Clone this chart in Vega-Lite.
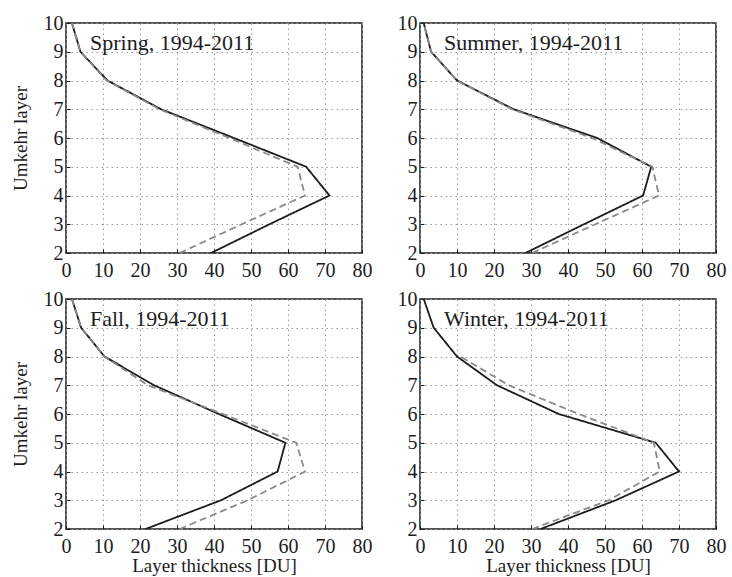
{
  "$schema": "https://vega.github.io/schema/vega-lite/v6.json",
  "padding": {"left": 10, "top": 12, "right": 5, "bottom": 0},
  "background": "white",
  "datasets": {
    "profiles": [
      {"season":"Spring","series":"a","layer":10,"value":1.6},
      {"season":"Spring","series":"a","layer":9,"value":3.9},
      {"season":"Spring","series":"a","layer":8,"value":11.2},
      {"season":"Spring","series":"a","layer":7,"value":25.7},
      {"season":"Spring","series":"a","layer":6,"value":45.4},
      {"season":"Spring","series":"a","layer":5,"value":64.9},
      {"season":"Spring","series":"a","layer":4,"value":71.2},
      {"season":"Spring","series":"a","layer":3,"value":55.0},
      {"season":"Spring","series":"a","layer":2,"value":39.2},
      {"season":"Spring","series":"b","layer":10,"value":1.6},
      {"season":"Spring","series":"b","layer":9,"value":3.9},
      {"season":"Spring","series":"b","layer":8,"value":11.0},
      {"season":"Spring","series":"b","layer":7,"value":25.3},
      {"season":"Spring","series":"b","layer":6,"value":44.1},
      {"season":"Spring","series":"b","layer":5,"value":62.6},
      {"season":"Spring","series":"b","layer":4,"value":64.6},
      {"season":"Spring","series":"b","layer":3,"value":47.5},
      {"season":"Spring","series":"b","layer":2,"value":30.7},
      {"season":"Summer","series":"a","layer":10,"value":1.0},
      {"season":"Summer","series":"a","layer":9,"value":3.0},
      {"season":"Summer","series":"a","layer":8,"value":10.0},
      {"season":"Summer","series":"a","layer":7,"value":25.3},
      {"season":"Summer","series":"a","layer":6,"value":47.9},
      {"season":"Summer","series":"a","layer":5,"value":62.5},
      {"season":"Summer","series":"a","layer":4,"value":60.3},
      {"season":"Summer","series":"a","layer":3,"value":44.3},
      {"season":"Summer","series":"a","layer":2,"value":28.5},
      {"season":"Summer","series":"b","layer":10,"value":1.0},
      {"season":"Summer","series":"b","layer":9,"value":3.0},
      {"season":"Summer","series":"b","layer":8,"value":10.0},
      {"season":"Summer","series":"b","layer":7,"value":24.9},
      {"season":"Summer","series":"b","layer":6,"value":46.5},
      {"season":"Summer","series":"b","layer":5,"value":62.8},
      {"season":"Summer","series":"b","layer":4,"value":64.6},
      {"season":"Summer","series":"b","layer":3,"value":47.4},
      {"season":"Summer","series":"b","layer":2,"value":30.3},
      {"season":"Fall","series":"a","layer":10,"value":1.6},
      {"season":"Fall","series":"a","layer":9,"value":4.1},
      {"season":"Fall","series":"a","layer":8,"value":10.4},
      {"season":"Fall","series":"a","layer":7,"value":23.8},
      {"season":"Fall","series":"a","layer":6,"value":41.3},
      {"season":"Fall","series":"a","layer":5,"value":59.3},
      {"season":"Fall","series":"a","layer":4,"value":57.2},
      {"season":"Fall","series":"a","layer":3,"value":41.9},
      {"season":"Fall","series":"a","layer":2,"value":21.5},
      {"season":"Fall","series":"b","layer":10,"value":1.6},
      {"season":"Fall","series":"b","layer":9,"value":4.1},
      {"season":"Fall","series":"b","layer":8,"value":10.4},
      {"season":"Fall","series":"b","layer":7,"value":22.1},
      {"season":"Fall","series":"b","layer":6,"value":42.4},
      {"season":"Fall","series":"b","layer":5,"value":62.2},
      {"season":"Fall","series":"b","layer":4,"value":64.6},
      {"season":"Fall","series":"b","layer":3,"value":49.1},
      {"season":"Fall","series":"b","layer":2,"value":30.7},
      {"season":"Winter","series":"a","layer":10,"value":1.0},
      {"season":"Winter","series":"a","layer":9,"value":3.7},
      {"season":"Winter","series":"a","layer":8,"value":10.0},
      {"season":"Winter","series":"a","layer":7,"value":20.8},
      {"season":"Winter","series":"a","layer":6,"value":37.5},
      {"season":"Winter","series":"a","layer":5,"value":63.7},
      {"season":"Winter","series":"a","layer":4,"value":70.0},
      {"season":"Winter","series":"a","layer":3,"value":52.9},
      {"season":"Winter","series":"a","layer":2,"value":32.6},
      {"season":"Winter","series":"b","layer":8,"value":10.9},
      {"season":"Winter","series":"b","layer":7,"value":24.0},
      {"season":"Winter","series":"b","layer":6,"value":42.9},
      {"season":"Winter","series":"b","layer":5,"value":63.2},
      {"season":"Winter","series":"b","layer":4,"value":64.8},
      {"season":"Winter","series":"b","layer":3,"value":51.0},
      {"season":"Winter","series":"b","layer":2,"value":30.3}
    ]
  },
  "columns": 2,
  "bounds": "flush",
  "spacing": {"column": 58, "row": 46},
  "concat": [
    {
      "width": 296, "height": 230,
      "title": {"text": "Spring, 1994-2011", "anchor": "start", "frame": "group", "orient": "top", "offset": -30.5, "baseline": "middle", "dx": 24, "dy": 21, "font": "Liberation Serif", "fontSize": 22, "fontWeight": "normal", "color": "#1c1c1c"},
      "data": {"name": "profiles"},
      "transform": [{"filter": "datum.season === 'Spring'"}],
      "mark": {"type": "line", "strokeWidth": 1.8},
      "encoding": {
        "x": {"field": "value", "type": "quantitative", "scale": {"domain": [0, 80], "nice": false}, "axis": {"values": [0,10,20,30,40,50,60,70,80], "title": null, "domain": false, "grid": true, "gridColor": "#999999", "gridDash": [1.5,3.5], "gridWidth": 1, "tickSize": -4, "tickColor": "#1c1c1c", "labelFont": "Liberation Serif", "labelFontSize": 20, "labelColor": "#1c1c1c", "labelPadding": 11, "labelFlush": false, "labelOverlap": false}},
        "y": {"field": "layer", "type": "quantitative", "scale": {"domain": [2, 10], "nice": false}, "axis": {"values": [2,3,4,5,6,7,8,9,10], "title": "Umkehr layer", "titleFont": "Liberation Serif", "titleFontSize": 19, "titleFontWeight": "normal", "titleColor": "#1c1c1c", "titlePadding": 13, "domain": false, "grid": true, "gridColor": "#999999", "gridDash": [1.5,3.5], "gridWidth": 1, "tickSize": -4, "tickColor": "#1c1c1c", "labelFont": "Liberation Serif", "labelFontSize": 20, "labelColor": "#1c1c1c", "labelPadding": 7, "labelFlush": false, "labelOverlap": false}},
        "color": {"field": "series", "type": "nominal", "scale": {"domain": ["a","b"], "range": ["#1c1c1c","#8a8a8a"]}, "legend": null},
        "strokeDash": {"field": "series", "type": "nominal", "scale": {"domain": ["a","b"], "range": [[1,0],[7,4]]}, "legend": null},
        "order": {"field": "layer", "type": "quantitative"}
      }
    },
    {
      "width": 296, "height": 230,
      "title": {"text": "Summer, 1994-2011", "anchor": "start", "frame": "group", "orient": "top", "offset": -30.5, "baseline": "middle", "dx": 24, "dy": 21, "font": "Liberation Serif", "fontSize": 22, "fontWeight": "normal", "color": "#1c1c1c"},
      "data": {"name": "profiles"},
      "transform": [{"filter": "datum.season === 'Summer'"}],
      "mark": {"type": "line", "strokeWidth": 1.8},
      "encoding": {
        "x": {"field": "value", "type": "quantitative", "scale": {"domain": [0, 80], "nice": false}, "axis": {"values": [0,10,20,30,40,50,60,70,80], "title": null, "domain": false, "grid": true, "gridColor": "#999999", "gridDash": [1.5,3.5], "gridWidth": 1, "tickSize": -4, "tickColor": "#1c1c1c", "labelFont": "Liberation Serif", "labelFontSize": 20, "labelColor": "#1c1c1c", "labelPadding": 11, "labelFlush": false, "labelOverlap": false}},
        "y": {"field": "layer", "type": "quantitative", "scale": {"domain": [2, 10], "nice": false}, "axis": {"values": [2,3,4,5,6,7,8,9,10], "title": null, "domain": false, "grid": true, "gridColor": "#999999", "gridDash": [1.5,3.5], "gridWidth": 1, "tickSize": -4, "tickColor": "#1c1c1c", "labelFont": "Liberation Serif", "labelFontSize": 20, "labelColor": "#1c1c1c", "labelPadding": 7, "labelFlush": false, "labelOverlap": false}},
        "color": {"field": "series", "type": "nominal", "scale": {"domain": ["a","b"], "range": ["#1c1c1c","#8a8a8a"]}, "legend": null},
        "strokeDash": {"field": "series", "type": "nominal", "scale": {"domain": ["a","b"], "range": [[1,0],[7,4]]}, "legend": null},
        "order": {"field": "layer", "type": "quantitative"}
      }
    },
    {
      "width": 296, "height": 230,
      "title": {"text": "Fall, 1994-2011", "anchor": "start", "frame": "group", "orient": "top", "offset": -30.5, "baseline": "middle", "dx": 24, "dy": 21, "font": "Liberation Serif", "fontSize": 22, "fontWeight": "normal", "color": "#1c1c1c"},
      "data": {"name": "profiles"},
      "transform": [{"filter": "datum.season === 'Fall'"}],
      "mark": {"type": "line", "strokeWidth": 1.8},
      "encoding": {
        "x": {"field": "value", "type": "quantitative", "scale": {"domain": [0, 80], "nice": false}, "axis": {"values": [0,10,20,30,40,50,60,70,80], "title": "Layer thickness [DU]", "titleFont": "Liberation Serif", "titleFontSize": 19, "titleFontWeight": "normal", "titleColor": "#1c1c1c", "titlePadding": 0, "domain": false, "grid": true, "gridColor": "#999999", "gridDash": [1.5,3.5], "gridWidth": 1, "tickSize": -4, "tickColor": "#1c1c1c", "labelFont": "Liberation Serif", "labelFontSize": 20, "labelColor": "#1c1c1c", "labelPadding": 11, "labelFlush": false, "labelOverlap": false}},
        "y": {"field": "layer", "type": "quantitative", "scale": {"domain": [2, 10], "nice": false}, "axis": {"values": [2,3,4,5,6,7,8,9,10], "title": "Umkehr layer", "titleFont": "Liberation Serif", "titleFontSize": 19, "titleFontWeight": "normal", "titleColor": "#1c1c1c", "titlePadding": 13, "domain": false, "grid": true, "gridColor": "#999999", "gridDash": [1.5,3.5], "gridWidth": 1, "tickSize": -4, "tickColor": "#1c1c1c", "labelFont": "Liberation Serif", "labelFontSize": 20, "labelColor": "#1c1c1c", "labelPadding": 7, "labelFlush": false, "labelOverlap": false}},
        "color": {"field": "series", "type": "nominal", "scale": {"domain": ["a","b"], "range": ["#1c1c1c","#8a8a8a"]}, "legend": null},
        "strokeDash": {"field": "series", "type": "nominal", "scale": {"domain": ["a","b"], "range": [[1,0],[7,4]]}, "legend": null},
        "order": {"field": "layer", "type": "quantitative"}
      }
    },
    {
      "width": 296, "height": 230,
      "title": {"text": "Winter, 1994-2011", "anchor": "start", "frame": "group", "orient": "top", "offset": -30.5, "baseline": "middle", "dx": 24, "dy": 21, "font": "Liberation Serif", "fontSize": 22, "fontWeight": "normal", "color": "#1c1c1c"},
      "data": {"name": "profiles"},
      "transform": [{"filter": "datum.season === 'Winter'"}],
      "mark": {"type": "line", "strokeWidth": 1.8},
      "encoding": {
        "x": {"field": "value", "type": "quantitative", "scale": {"domain": [0, 80], "nice": false}, "axis": {"values": [0,10,20,30,40,50,60,70,80], "title": "Layer thickness [DU]", "titleFont": "Liberation Serif", "titleFontSize": 19, "titleFontWeight": "normal", "titleColor": "#1c1c1c", "titlePadding": 0, "domain": false, "grid": true, "gridColor": "#999999", "gridDash": [1.5,3.5], "gridWidth": 1, "tickSize": -4, "tickColor": "#1c1c1c", "labelFont": "Liberation Serif", "labelFontSize": 20, "labelColor": "#1c1c1c", "labelPadding": 11, "labelFlush": false, "labelOverlap": false}},
        "y": {"field": "layer", "type": "quantitative", "scale": {"domain": [2, 10], "nice": false}, "axis": {"values": [2,3,4,5,6,7,8,9,10], "title": null, "domain": false, "grid": true, "gridColor": "#999999", "gridDash": [1.5,3.5], "gridWidth": 1, "tickSize": -4, "tickColor": "#1c1c1c", "labelFont": "Liberation Serif", "labelFontSize": 20, "labelColor": "#1c1c1c", "labelPadding": 7, "labelFlush": false, "labelOverlap": false}},
        "color": {"field": "series", "type": "nominal", "scale": {"domain": ["a","b"], "range": ["#1c1c1c","#8a8a8a"]}, "legend": null},
        "strokeDash": {"field": "series", "type": "nominal", "scale": {"domain": ["a","b"], "range": [[1,0],[7,4]]}, "legend": null},
        "order": {"field": "layer", "type": "quantitative"}
      }
    }
  ],
  "config": {
    "view": {"stroke": "#1c1c1c", "strokeWidth": 1.5}
  }
}
